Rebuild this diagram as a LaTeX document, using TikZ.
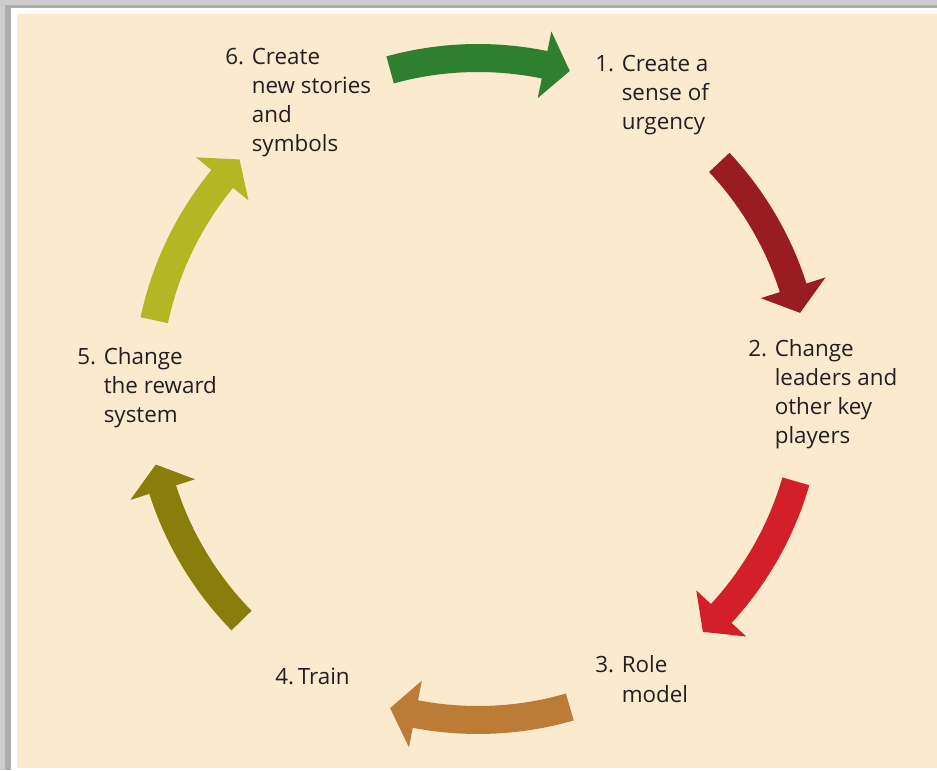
\documentclass[tikz,border=0pt]{standalone}
\usepackage{fontspec}
\setmainfont{Open Sans}
\usetikzlibrary{calc}
\definecolor{bgbeige}{RGB}{252,234,207}
\definecolor{txt}{RGB}{35,31,32}
\definecolor{cgreen}{RGB}{46,128,48}
\definecolor{cdarkred}{RGB}{152,28,32}
\definecolor{cred}{RGB}{210,31,42}
\definecolor{cbrown}{RGB}{188,124,56}
\definecolor{colive}{RGB}{139,125,12}
\definecolor{cyellow}{RGB}{178,184,36}
\newcommand\cyclearrow[3]{% colour, tail angle, tip angle
  \pgfmathsetmacro\headbase{#3+4.5}
  \fill[#1] ($(C)+(#2:345)$) arc[start angle=#2, end angle=\headbase, radius=345]
    -- ($(C)+(\headbase:365)$) -- ($(C)+(#3:331)$) -- ($(C)+(\headbase:297)$)
    -- ($(C)+(\headbase:317)$) arc[start angle=\headbase, end angle=#2, radius=317] -- cycle;
}
\begin{document}
\begin{tikzpicture}[x=0.75pt,y=0.75pt,
  lab/.style={inner sep=0pt, text=txt, font=\fontsize{16.8}{21.75}\selectfont}]
\useasboundingbox (0,0) rectangle (937,770);
% frame
\fill[black!20] (0,0) rectangle (937,770);
\fill[black!32] (5,0) rectangle (937,765);
\fill[white] (11,0) rectangle (937,762);
\fill[bgbeige] (17,2) rectangle (937,756);
\coordinate (C) at (478,381);
% arrows
\cyclearrow{cgreen}{105.4}{73.9}
\cyclearrow{cdarkred}{43.2}{13.3}
\cyclearrow{cred}{-16.2}{-47.2}
\cyclearrow{cbrown}{-73.9}{-105.4}
\cyclearrow{colive}{224.4}{193.2}
\cyclearrow{cyellow}{168}{136.1}
% labels
\node[lab, anchor=base west] (l1) at (595,698) {\begin{tabular}[t]{@{}l@{ }l@{}}1.&Create a\\&sense of\\&urgency\end{tabular}};
\node[lab, anchor=base west] (l2) at (748,413) {\begin{tabular}[t]{@{}l@{ }l@{}}2.&Change\\&leaders and\\&other key\\&players\end{tabular}};
\node[lab, anchor=base west] (l3) at (595,97) {\begin{tabular}[t]{@{}l@{ }l@{}}3.&Role\\&model\end{tabular}};
\node[lab, anchor=base west] (l4) at (275,85) {4.\kern-1.5pt\ Train};
\node[lab, anchor=base west] (l5) at (77,405) {\begin{tabular}[t]{@{}l@{ }l@{}}5.&Change\\&the reward\\&system\end{tabular}};
\node[lab, anchor=base west] (l6) at (225,705) {\begin{tabular}[t]{@{}l@{ }l@{}}6.&Create\\&new stories\\&and\\&symbols\end{tabular}};
\end{tikzpicture}
\end{document}
